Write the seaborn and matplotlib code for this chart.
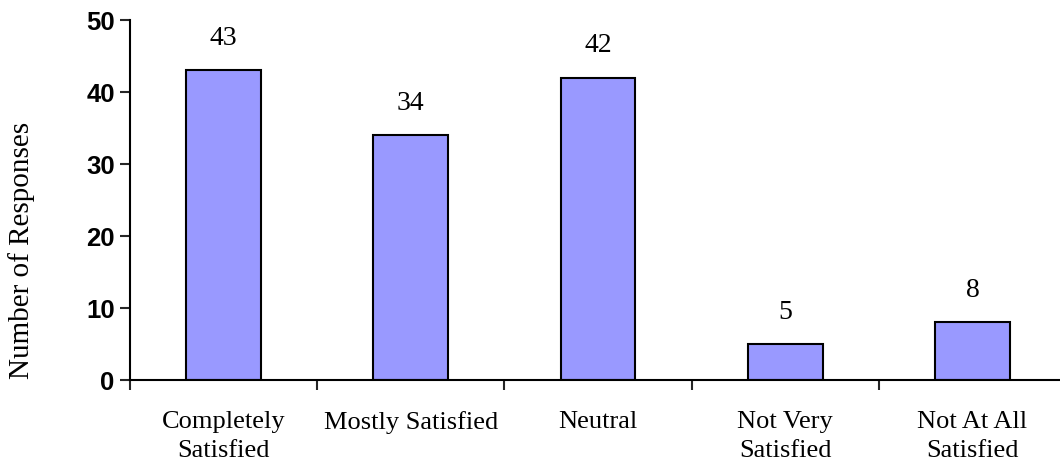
import numpy as np
import pandas as pd
import matplotlib
matplotlib.use("Agg")
import matplotlib.pyplot as plt
import seaborn as sns

categories = ["Completely\nSatisfied", "Mostly Satisfied", "Neutral",
              "Not Very\nSatisfied", "Not At All\nSatisfied"]
responses = [43, 34, 42, 5, 8]
y_ticks = [0, 10, 20, 30, 40, 50]

data = pd.DataFrame({"category": categories, "responses": responses})

sns.set_style("white")
plt.rcParams["font.family"] = ["Liberation Serif", "DejaVu Serif"]

fig = plt.figure(figsize=(10.6, 4.68), dpi=100)
ax = fig.add_axes([130 / 1060, 88 / 468, 936 / 1060, 360 / 468])

sns.barplot(data=data, x="category", y="responses", color="#9999FF",
            saturation=1, width=0.4, edgecolor="black", linewidth=1.5, ax=ax)

ax.set_xlim(-0.5, len(categories) - 0.5)
ax.set_ylim(0, 50)
ax.set_yticks(y_ticks)
ax.set_yticklabels([str(t) for t in y_ticks], family="Liberation Sans",
                   fontweight="bold", fontsize=18.5, color="black")
ax.tick_params(axis="y", direction="out", length=7, width=1.5, pad=4, left=True)

# category labels centred, tick marks between categories
ax.tick_params(axis="x", which="major", length=0, pad=22, labelsize=19,
               labelcolor="black")
for lbl in ax.get_xticklabels():
    lbl.set_linespacing(1.45)
ax.set_xticks(np.arange(len(categories) + 1) - 0.5, minor=True)
ax.tick_params(axis="x", which="minor", direction="out", length=7, width=1.5,
               bottom=True)

for s in ["top", "right"]:
    ax.spines[s].set_visible(False)
for s in ["left", "bottom"]:
    ax.spines[s].set_linewidth(1.5)
    ax.spines[s].set_color("black")

for i, v in enumerate(responses):
    ax.annotate(str(v), (i, v), xytext=(0, 14), textcoords="offset points",
                ha="center", va="bottom", fontsize=20, color="black")

ax.set_xlabel("")
ax.set_ylabel("Number of Responses", fontsize=21, color="black")
ax.yaxis.set_label_coords(-0.101, 0.36)

fig.savefig("out.png", dpi=100)
